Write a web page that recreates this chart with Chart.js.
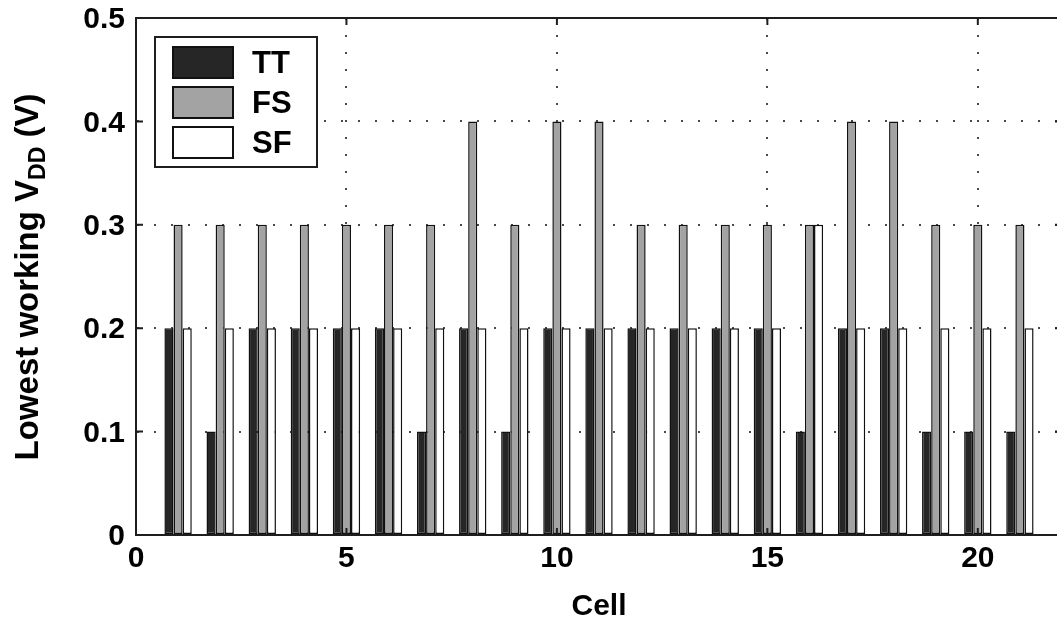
<!DOCTYPE html>
<html>
<head>
<meta charset="utf-8">
<script src="https://cdn.jsdelivr.net/npm/chart.js@4/dist/chart.umd.min.js"></script>
<style>
  html, body { margin: 0; padding: 0; background: #fff; overflow: hidden; }
  #wrap { width: 1070px; height: 625px; }
</style>
</head>
<body>
<div id="wrap"><canvas id="c" width="1070" height="625"></canvas></div>
<script>
// ---- data ----
const cells = [1,2,3,4,5,6,7,8,9,10,11,12,13,14,15,16,17,18,19,20,21];
const ttValues = [0.2,0.1,0.2,0.2,0.2,0.2,0.1,0.2,0.1,0.2,0.2,0.2,0.2,0.2,0.2,0.1,0.2,0.2,0.1,0.1,0.1];
const fsValues = [0.3,0.3,0.3,0.3,0.3,0.3,0.3,0.4,0.3,0.4,0.4,0.3,0.3,0.3,0.3,0.3,0.4,0.4,0.3,0.3,0.3];
const sfValues = [0.2,0.2,0.2,0.2,0.2,0.2,0.2,0.2,0.2,0.2,0.2,0.2,0.2,0.2,0.2,0.3,0.2,0.2,0.2,0.2,0.2];
const seriesLabels = ['TT', 'FS', 'SF'];
const xTicks = [0, 5, 10, 15, 20];
const yTicks = [0, 0.1, 0.2, 0.3, 0.4, 0.5];
const xTitle = 'Cell';
const yTitleMain = 'Lowest working V';
const yTitleSub = 'DD';
const yTitleEnd = ' (V)';

const FONT = '"Liberation Sans", Arial, Helvetica, sans-serif';
const fills = ['#262626', '#a3a3a3', '#ffffff'];

function pts(vals) { return cells.map((c, i) => ({ x: c, y: vals[i] })); }

const boxPlugin = {
  id: 'boxPlugin',
  afterDraw(chart) {
    const { ctx, chartArea: a, scales } = chart;
    ctx.save();
    ctx.setLineDash([]);
    ctx.strokeStyle = '#1e1e1e';
    ctx.lineWidth = 2;
    ctx.beginPath();
    ctx.rect(a.left, a.top, a.right - a.left, a.bottom - a.top);
    ctx.stroke();
    // inward tick marks
    const tl = 7;
    yTicks.forEach(v => {
      const y = scales.y.getPixelForValue(v);
      ctx.beginPath();
      ctx.moveTo(a.left, y); ctx.lineTo(a.left + tl, y);
      ctx.moveTo(a.right, y); ctx.lineTo(a.right - tl, y);
      ctx.stroke();
    });
    xTicks.forEach(v => {
      const x = scales.x.getPixelForValue(v);
      ctx.beginPath();
      ctx.moveTo(x, a.top); ctx.lineTo(x, a.top + tl);
      ctx.moveTo(x, a.bottom); ctx.lineTo(x, a.bottom - tl);
      ctx.stroke();
    });

    // legend box
    const lx = 155, ly = 37, lw = 162, lh = 130;
    ctx.fillStyle = '#fff';
    ctx.fillRect(lx, ly, lw, lh);
    ctx.strokeStyle = '#1e1e1e';
    ctx.lineWidth = 2;
    ctx.strokeRect(lx, ly, lw, lh);
    chart.data.datasets.forEach((ds, i) => {
      const sy = ly + 10 + i * 40;
      ctx.fillStyle = ds.backgroundColor;
      ctx.fillRect(lx + 18, sy, 60, 31);
      ctx.strokeStyle = '#111';
      ctx.lineWidth = 2;
      ctx.strokeRect(lx + 18, sy, 60, 31);
      ctx.fillStyle = '#000';
      ctx.font = 'bold 31px ' + FONT;
      ctx.textBaseline = 'middle';
      ctx.textAlign = 'left';
      ctx.fillText(ds.label, lx + 97, sy + 17);
    });

    // y-axis title with subscript
    ctx.save();
    ctx.translate(29, 277);
    ctx.rotate(-Math.PI / 2);
    ctx.fillStyle = '#000';
    ctx.textBaseline = 'middle';
    ctx.textAlign = 'left';
    const mainF = 'bold 33px ' + FONT, subF = 'bold 23px ' + FONT;
    ctx.font = mainF; const w1 = ctx.measureText(yTitleMain).width;
    const w3 = ctx.measureText(yTitleEnd).width;
    ctx.font = subF; const w2 = ctx.measureText(yTitleSub).width;
    const x0 = -(w1 + w2 + w3) / 2;
    ctx.font = mainF; ctx.fillText(yTitleMain, x0, 0);
    ctx.font = subF; ctx.fillText(yTitleSub, x0 + w1, 10);
    ctx.font = mainF; ctx.fillText(yTitleEnd, x0 + w1 + w2, 0);
    ctx.restore();
    ctx.restore();
  }
};

new Chart(document.getElementById('c'), {
  type: 'bar',
  plugins: [boxPlugin],
  data: {
    datasets: [
      { label: seriesLabels[0], data: pts(ttValues), backgroundColor: fills[0] },
      { label: seriesLabels[1], data: pts(fsValues), backgroundColor: fills[1] },
      { label: seriesLabels[2], data: pts(sfValues), backgroundColor: fills[2] }
    ]
  },
  options: {
    responsive: false,
    animation: false,
    layout: { padding: { left: 0, top: 18, right: 8, bottom: 0 } },
    datasets: {
      bar: {
        borderColor: '#111',
        borderWidth: 1.5,
        borderSkipped: false,
        categoryPercentage: 0.65,
        barPercentage: 1.0
      }
    },
    plugins: { legend: { display: false }, tooltip: { enabled: false } },
    scales: {
      x: {
        type: 'linear',
        min: 0, max: 22,
        offset: false,
        afterBuildTicks: s => { s.ticks = xTicks.map(v => ({ value: v })); },
        afterFit: s => { s.height = 90; s.paddingLeft = 0; s.paddingRight = 0; },
        grid: {
          offset: false,
          drawTicks: false,
          color: ctx => (ctx.tick && ctx.tick.value === 0) ? 'rgba(0,0,0,0)' : '#4a4a4a',
          lineWidth: 2
        },
        border: { display: true, color: '#1e1e1e', width: 2, dash: [2, 15] },
        ticks: {
          padding: 6,
          color: '#000',
          font: { family: FONT, size: 30, weight: 'bold' },
          maxRotation: 0,
          callback: v => String(v)
        },
        title: {
          display: true,
          text: xTitle,
          color: '#000',
          padding: { top: 0, bottom: 0 },
          font: { family: FONT, size: 30, weight: 'bold' }
        }
      },
      y: {
        min: 0, max: 0.5,
        afterBuildTicks: s => { s.ticks = yTicks.map(v => ({ value: v })); },
        afterFit: s => { s.width = 136; s.paddingTop = 0; s.paddingBottom = 0; },
        grid: {
          drawTicks: false,
          color: ctx => (ctx.tick && (ctx.tick.value === 0 || ctx.tick.value === 0.5)) ? 'rgba(0,0,0,0)' : '#4a4a4a',
          lineWidth: 2
        },
        border: { display: true, color: '#1e1e1e', width: 2, dash: [2, 15] },
        ticks: {
          padding: 11,
          labelOffset: 2,
          color: '#000',
          font: { family: FONT, size: 30, weight: 'bold' },
          callback: v => String(Math.round(v * 10) / 10)
        }
      }
    }
  }
});
</script>
</body>
</html>
